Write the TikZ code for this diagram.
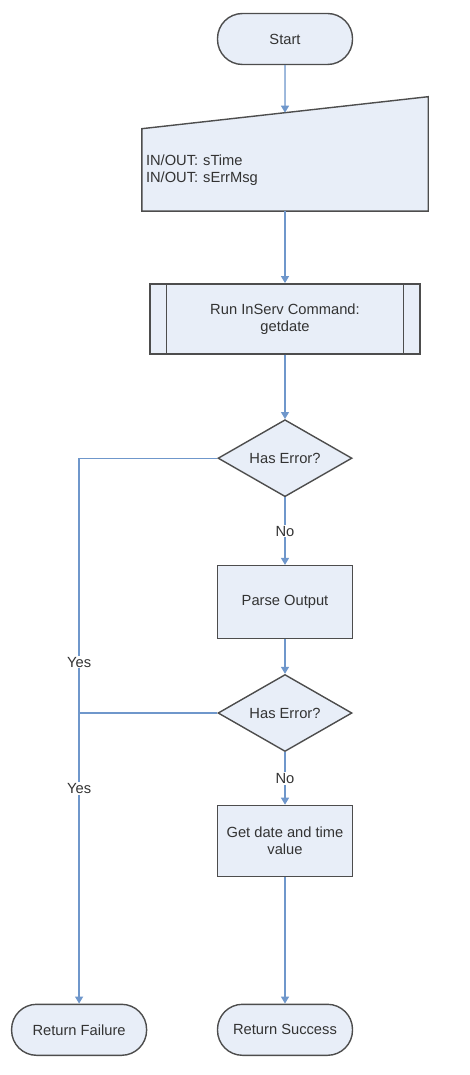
\documentclass[tikz,border=0pt]{standalone}
\usepackage{fontspec}
\setmainfont{Liberation Sans}
\usepackage{xcolor}
\usepackage{tikz}
\usetikzlibrary{shapes.geometric, arrows.meta, positioning, backgrounds, calc}
\definecolor{boxfill}{HTML}{E8EEF8}
\definecolor{boxdraw}{HTML}{4D4D4D}
\definecolor{linkdraw}{HTML}{6F97CB}
\definecolor{txtgray}{HTML}{333333}
\tikzset{
  blk/.style={rectangle, line width=1.4pt, draw=boxdraw, fill=boxfill, align=center, text=txtgray, font=\fontsize{14.7}{17}\selectfont, inner sep=4pt},
  term/.style={blk, rounded corners=25pt, minimum width=135pt, minimum height=51pt},
  proc/.style={blk, minimum width=135pt, minimum height=73pt},
  subproc/.style={blk, minimum width=270pt, minimum height=70pt},
  decision/.style={blk, diamond, aspect=1.74, inner sep=0pt, minimum width=134pt, minimum height=77pt},
  iobox/.style={rectangle, align=left, text=txtgray, font=\fontsize{14.7}{17}\selectfont, text width=278pt, minimum height=82pt, inner sep=4pt},
  ioshape/.style={line width=1.4pt, draw=boxdraw, fill=boxfill},
  lab/.style={font=\fontsize{14.7}{17}\selectfont, text=txtgray, fill=white, inner sep=1pt},
  arr/.style={-{Triangle[length=7pt,width=8pt]}, line width=1.3pt, draw=linkdraw, fill=linkdraw},
  link/.style={line width=1.3pt, draw=linkdraw},
}
\begin{document}
\begin{tikzpicture}[x=1pt, y=-1pt]
  \useasboundingbox (0,0) rectangle (469,1075);
  \node[term] (start) at (285,39) {Start};
  \node[iobox, below=63.5pt of start] (io) {IN/OUT: sTime\\IN/OUT: sErrMsg};
  \begin{scope}[on background layer]
    \draw[ioshape] (io.south west) -- (io.north west) -- ([yshift=32pt]io.north east) -- (io.south east) -- cycle;
  \end{scope}
  \coordinate (iotop) at ($(io.north west)!0.5!([yshift=32pt]io.north east)$);
  \node[subproc, below=72pt of io] (run) {Run InServ Command:\\getdate};
  \draw[line width=1.4pt, draw=boxdraw] ([xshift=17pt]run.north west) -- ([xshift=17pt]run.south west);
  \draw[line width=1.4pt, draw=boxdraw] ([xshift=-17pt]run.north east) -- ([xshift=-17pt]run.south east);
  \node[decision, below=64.5pt of run] (err1) {Has Error?};
  \node[proc, below=67.5pt of err1] (parse) {Parse Output};
  \node[decision, below=34.5pt of parse] (err2) {Has Error?};
  \node[proc, minimum height=71pt, below=52.5pt of err2] (getdt) {Get date and time\\value};
  \node[term, below=126.5pt of getdt] (succ) {Return Success};
  \node[term, left=69.5pt of succ] (fail) {Return Failure};
  \coordinate (join2) at (fail.north |- err2.west);

  \draw[arr] (start) -- (iotop);
  \draw[arr] (io) -- (run);
  \draw[arr] (run) -- (err1);
  \draw[arr] (err1) -- node[lab] {No} (parse);
  \draw[arr] (parse) -- (err2);
  \draw[arr] (err2) -- node[lab] {No} (getdt);
  \draw[arr] (getdt) -- (succ);
  \draw[link] (err1.west) -| node[lab, pos=0.9] {Yes} (join2);
  \draw[link] (err2.west) -- (join2);
  \draw[arr] (join2) -- node[lab, pos=0.26] {Yes} (fail.north);
\end{tikzpicture}
\end{document}
